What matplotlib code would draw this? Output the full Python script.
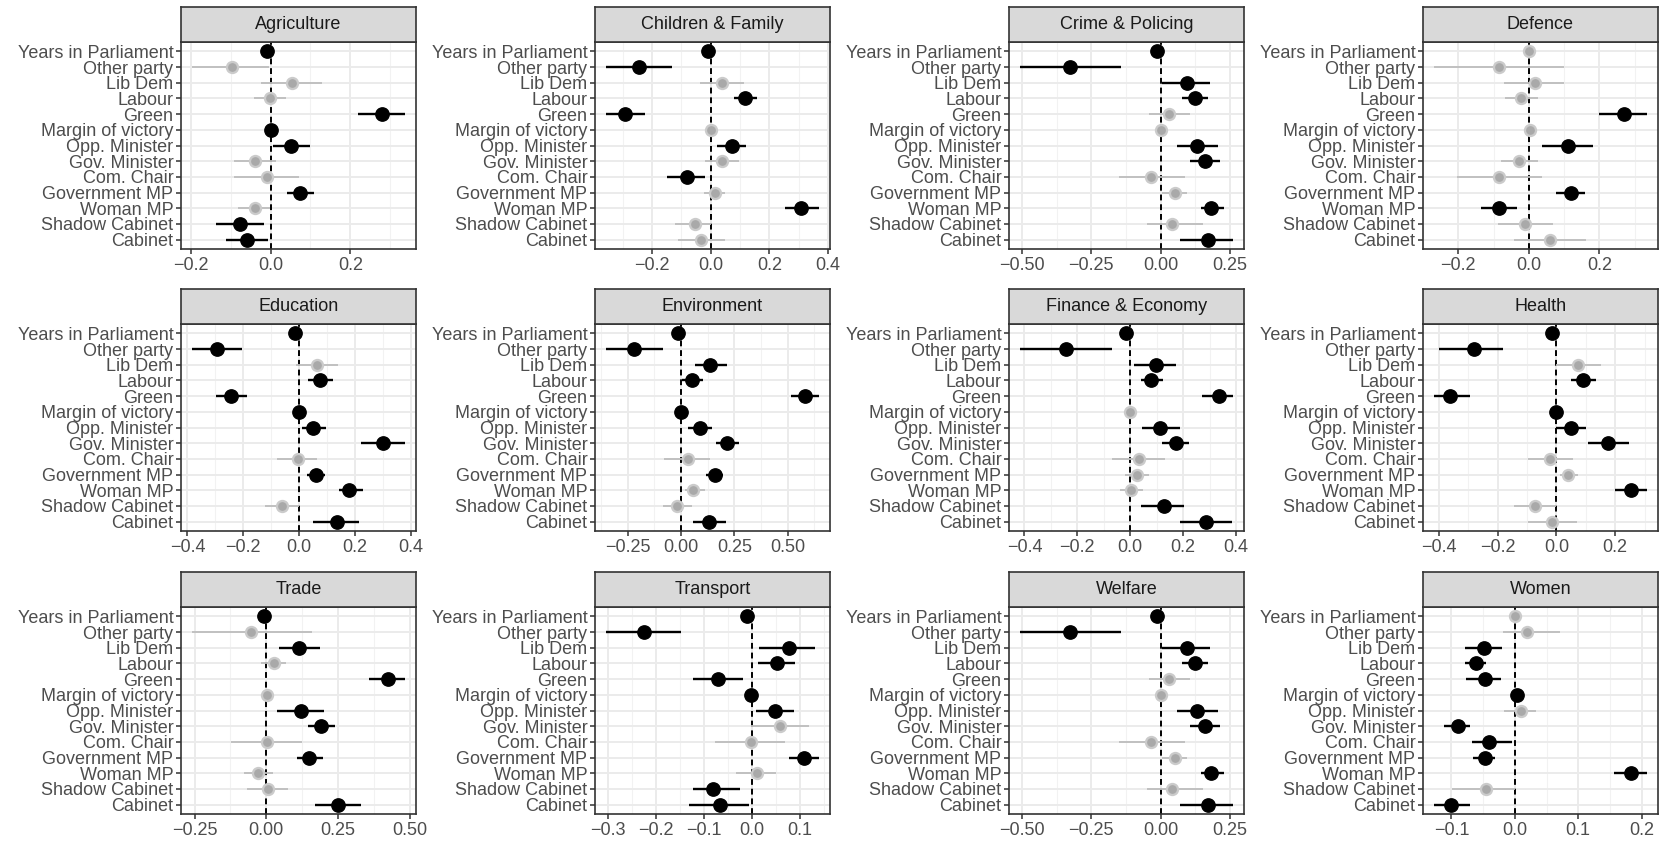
import numpy as np
import matplotlib
matplotlib.use('Agg')
import matplotlib.pyplot as plt

plt.rcParams['font.family'] = ['Liberation Sans', 'DejaVu Sans']

VARS = ['Years in Parliament', 'Other party', 'Lib Dem', 'Labour', 'Green',
        'Margin of victory', 'Opp. Minister', 'Gov. Minister', 'Com. Chair',
        'Government MP', 'Woman MP', 'Shadow Cabinet', 'Cabinet']

# estimate, lower CI, upper CI, significant (1 = black, 0 = grey)
agri_est = [-0.010, -0.098, 0.053, -0.002, 0.279, 0.002, 0.052, -0.038, -0.010, 0.075, -0.039, -0.078, -0.058]
agri_lo = [-0.014, -0.198, -0.023, -0.042, 0.220, -0.001, 0.007, -0.092, -0.092, 0.040, -0.083, -0.136, -0.111]
agri_hi = [-0.006, -0.003, 0.128, 0.038, 0.338, 0.005, 0.098, 0.014, 0.071, 0.108, -0.002, -0.017, -0.006]
agri_sig = [1, 0, 0, 0, 1, 1, 1, 0, 0, 1, 0, 1, 1]

child_est = [-0.011, -0.246, 0.039, 0.117, -0.291, 0.000, 0.073, 0.039, -0.082, 0.016, 0.309, -0.054, -0.034]
child_lo = [-0.015, -0.358, -0.037, 0.078, -0.358, -0.003, 0.021, -0.020, -0.150, -0.023, 0.254, -0.122, -0.113]
child_hi = [-0.007, -0.133, 0.115, 0.157, -0.225, 0.003, 0.121, 0.098, -0.018, 0.050, 0.370, 0.002, 0.047]
child_sig = [1, 1, 0, 1, 1, 0, 1, 0, 1, 0, 1, 0, 0]

crime_est = [-0.014, -0.325, 0.094, 0.124, 0.030, 0.000, 0.132, 0.160, -0.034, 0.051, 0.181, 0.042, 0.169]
crime_lo = [-0.018, -0.508, 0.006, 0.078, -0.042, -0.003, 0.060, 0.105, -0.150, 0.006, 0.144, -0.048, 0.070]
crime_hi = [-0.010, -0.142, 0.178, 0.171, 0.105, 0.003, 0.208, 0.214, 0.087, 0.096, 0.229, 0.153, 0.262]
crime_sig = [1, 1, 1, 1, 0, 0, 1, 1, 0, 0, 1, 0, 1]

defence_est = [0.000, -0.085, 0.017, -0.021, 0.271, 0.003, 0.112, -0.028, -0.085, 0.120, -0.085, -0.011, 0.060]
defence_lo = [-0.004, -0.270, -0.071, -0.068, 0.199, -0.001, 0.038, -0.080, -0.205, 0.078, -0.135, -0.088, -0.043]
defence_hi = [0.004, 0.101, 0.099, 0.026, 0.336, 0.007, 0.183, 0.026, 0.038, 0.159, -0.033, 0.069, 0.161]
defence_sig = [0, 0, 0, 0, 1, 0, 1, 0, 0, 1, 1, 0, 0]

edu_est = [-0.014, -0.295, 0.063, 0.075, -0.244, 0.000, 0.051, 0.300, -0.005, 0.060, 0.179, -0.060, 0.135]
edu_lo = [-0.018, -0.385, -0.011, 0.033, -0.299, -0.003, 0.010, 0.221, -0.080, 0.028, 0.141, -0.122, 0.051]
edu_hi = [-0.010, -0.206, 0.139, 0.121, -0.188, 0.003, 0.096, 0.380, 0.063, 0.091, 0.227, -0.002, 0.213]
edu_sig = [1, 1, 0, 1, 1, 1, 1, 1, 0, 1, 1, 0, 1]

env_est = [-0.016, -0.220, 0.135, 0.052, 0.582, 0.000, 0.088, 0.217, 0.033, 0.157, 0.055, -0.019, 0.130]
env_lo = [-0.020, -0.354, 0.064, 0.005, 0.516, -0.003, 0.033, 0.162, -0.079, 0.115, 0.020, -0.085, 0.055]
env_hi = [-0.012, -0.086, 0.214, 0.102, 0.649, 0.003, 0.146, 0.272, 0.135, 0.197, 0.112, 0.049, 0.212]
env_sig = [1, 1, 1, 1, 1, 1, 1, 1, 0, 1, 0, 0, 1]

fin_est = [-0.016, -0.244, 0.097, 0.080, 0.335, 0.000, 0.114, 0.173, 0.034, 0.025, 0.004, 0.127, 0.287]
fin_lo = [-0.020, -0.418, 0.015, 0.040, 0.272, -0.003, 0.044, 0.120, -0.067, -0.019, -0.040, 0.042, 0.187]
fin_hi = [-0.012, -0.070, 0.173, 0.124, 0.390, 0.003, 0.187, 0.224, 0.133, 0.070, 0.048, 0.205, 0.386]
fin_sig = [1, 1, 1, 1, 1, 0, 1, 1, 0, 0, 0, 1, 1]

health_est = [-0.015, -0.280, 0.074, 0.091, -0.360, -0.002, 0.051, 0.177, -0.023, 0.038, 0.254, -0.074, -0.015]
health_lo = [-0.019, -0.398, 0.000, 0.051, -0.417, -0.005, 0.000, 0.109, -0.097, 0.011, 0.198, -0.143, -0.097]
health_hi = [-0.011, -0.183, 0.152, 0.135, -0.295, 0.001, 0.099, 0.246, 0.055, 0.072, 0.309, 0.000, 0.069]
health_sig = [1, 1, 0, 1, 1, 1, 1, 1, 0, 0, 1, 0, 0]

trade_est = [-0.009, -0.052, 0.115, 0.026, 0.422, 0.002, 0.119, 0.189, 0.002, 0.150, -0.029, 0.006, 0.251]
trade_lo = [-0.013, -0.260, 0.043, -0.019, 0.358, -0.002, 0.037, 0.145, -0.124, 0.107, -0.079, -0.068, 0.171]
trade_hi = [-0.005, 0.160, 0.186, 0.069, 0.484, 0.006, 0.200, 0.238, 0.125, 0.197, 0.022, 0.076, 0.331]
trade_sig = [1, 0, 1, 0, 1, 0, 1, 1, 0, 1, 0, 0, 1]

transport_est = [-0.010, -0.224, 0.076, 0.052, -0.070, -0.002, 0.048, 0.058, -0.003, 0.108, 0.010, -0.080, -0.066]
transport_lo = [-0.013, -0.304, 0.015, 0.013, -0.122, -0.005, 0.008, -0.003, -0.076, 0.076, -0.033, -0.122, -0.131]
transport_hi = [-0.007, -0.147, 0.132, 0.090, -0.018, 0.001, 0.088, 0.118, 0.069, 0.140, 0.049, -0.025, -0.006]
transport_sig = [1, 1, 1, 1, 1, 1, 1, 0, 0, 1, 0, 1, 1]

welfare_est = [-0.014, -0.325, 0.094, 0.124, 0.030, 0.000, 0.132, 0.160, -0.034, 0.051, 0.181, 0.042, 0.169]
welfare_lo = [-0.018, -0.508, 0.006, 0.078, -0.042, -0.003, 0.060, 0.105, -0.150, 0.006, 0.144, -0.048, 0.070]
welfare_hi = [-0.010, -0.142, 0.178, 0.171, 0.105, 0.003, 0.208, 0.214, 0.087, 0.096, 0.229, 0.153, 0.262]
welfare_sig = [1, 1, 1, 1, 0, 0, 1, 1, 0, 0, 1, 0, 1]

women_est = [0.001, 0.019, -0.048, -0.062, -0.047, 0.003, 0.010, -0.089, -0.040, -0.047, 0.184, -0.046, -0.100]
women_lo = [-0.002, -0.018, -0.079, -0.079, -0.077, 0.000, -0.017, -0.111, -0.067, -0.066, 0.157, -0.099, -0.128]
women_hi = [0.004, 0.071, -0.020, -0.045, -0.022, 0.006, 0.034, -0.070, -0.004, -0.032, 0.209, 0.000, -0.071]
women_sig = [0, 0, 1, 1, 1, 1, 0, 1, 1, 1, 1, 0, 1]

# x tick labels per panel
agri_ticks = [-0.2, 0.0, 0.2]
child_ticks = [-0.2, 0.0, 0.2, 0.4]
crime_ticks = [-0.50, -0.25, 0.00, 0.25]
defence_ticks = [-0.2, 0.0, 0.2]
edu_ticks = [-0.4, -0.2, 0.0, 0.2, 0.4]
env_ticks = [-0.25, 0.00, 0.25, 0.50]
fin_ticks = [-0.4, -0.2, 0.0, 0.2, 0.4]
health_ticks = [-0.4, -0.2, 0.0, 0.2]
trade_ticks = [-0.25, 0.00, 0.25, 0.50]
transport_ticks = [-0.3, -0.2, -0.1, 0.0, 0.1]
welfare_ticks = [-0.50, -0.25, 0.00, 0.25]
women_ticks = [-0.1, 0.0, 0.1, 0.2]

PANELS = [
    ('Agriculture', agri_est, agri_lo, agri_hi, agri_sig, agri_ticks, 1),
    ('Children & Family', child_est, child_lo, child_hi, child_sig, child_ticks, 1),
    ('Crime & Policing', crime_est, crime_lo, crime_hi, crime_sig, crime_ticks, 2),
    ('Defence', defence_est, defence_lo, defence_hi, defence_sig, defence_ticks, 1),
    ('Education', edu_est, edu_lo, edu_hi, edu_sig, edu_ticks, 1),
    ('Environment', env_est, env_lo, env_hi, env_sig, env_ticks, 2),
    ('Finance & Economy', fin_est, fin_lo, fin_hi, fin_sig, fin_ticks, 1),
    ('Health', health_est, health_lo, health_hi, health_sig, health_ticks, 1),
    ('Trade', trade_est, trade_lo, trade_hi, trade_sig, trade_ticks, 2),
    ('Transport', transport_est, transport_lo, transport_hi, transport_sig, transport_ticks, 1),
    ('Welfare', welfare_est, welfare_lo, welfare_hi, welfare_sig, welfare_ticks, 2),
    ('Women', women_est, women_lo, women_hi, women_sig, women_ticks, 1),
]

W, H = 1665, 843
fig = plt.figure(figsize=(W / 100, H / 100), dpi=100)

col_left = [181, 595, 1009, 1423]
row_top = [42, 324, 607]
pw, ph, sh = 235, 207, 35

y = np.arange(len(VARS), 0, -1)

for k, (title, est, lo, hi, sig, ticks, nd) in enumerate(PANELS):
    r, c = divmod(k, 4)
    left = col_left[c] / W
    bottom = 1 - (row_top[r] + ph) / H
    ax = fig.add_axes([left, bottom, pw / W, ph / H])

    xmin, xmax = min(lo), max(hi)
    pad = 0.05 * (xmax - xmin)
    x0, x1 = xmin - pad, xmax + pad

    step = ticks[1] - ticks[0]
    minor = np.arange(ticks[0] - step / 2, ticks[-1] + step, step)
    minor = minor[(minor > x0) & (minor < x1)]
    ax.set_xticks(ticks)
    ax.set_xticklabels([f'{t:.{nd}f}'.replace('-', '\u2212') for t in ticks])
    ax.set_xticks(minor, minor=True)
    ax.set_yticks(y)
    ax.set_yticklabels(VARS)
    # limits after ticks, otherwise set_xticks widens them
    ax.set_xlim(x0, x1)
    ax.set_ylim(0.4, len(VARS) + 0.6)

    ax.grid(which='major', color='#EBEBEB', lw=1.4, zorder=0)
    ax.grid(which='minor', axis='x', color='#F2F2F2', lw=0.8, zorder=0)
    ax.set_axisbelow(True)
    ax.tick_params(which='major', length=3.5, width=1.1, color='#333333',
                   labelsize=13, labelcolor='#4D4D4D', pad=2)
    ax.tick_params(which='minor', length=0)
    for sp in ax.spines.values():
        sp.set_color('#333333')
        sp.set_linewidth(1.2)
        sp.set_zorder(6)

    ax.axvline(0, color='black', lw=1.4, ls=(0, (3, 2)), zorder=2)

    for i in range(len(VARS)):
        if sig[i]:
            ax.plot([lo[i], hi[i]], [y[i], y[i]], color='black', lw=1.7,
                    solid_capstyle='butt', zorder=4)
            ax.plot(est[i], y[i], 'o', color='black', ms=9.6, mec='black', zorder=5)
        else:
            ax.plot([lo[i], hi[i]], [y[i], y[i]], color='#BDBDBD', lw=1.3,
                    solid_capstyle='butt', zorder=3)
            ax.plot(est[i], y[i], 'o', color='#CBCBCB', ms=9.6, mew=0, zorder=3)
            ax.plot(est[i], y[i], 'o', color='#A9A9A9', ms=6.3, mew=0, zorder=3)

    sax = fig.add_axes([left, 1 - row_top[r] / H, pw / W, sh / H])
    sax.set_facecolor('#D9D9D9')
    sax.set_xticks([])
    sax.set_yticks([])
    for sp in sax.spines.values():
        sp.set_color('#333333')
        sp.set_linewidth(1.2)
    sax.text(0.5, 0.5, title, ha='center', va='center', fontsize=13,
             color='#1A1A1A', transform=sax.transAxes)

fig.savefig('out.png', dpi=100)
